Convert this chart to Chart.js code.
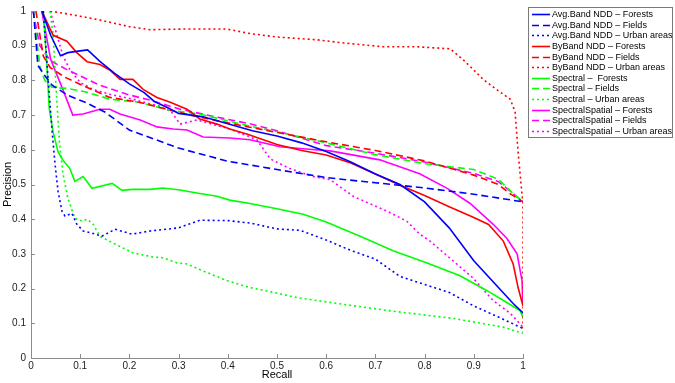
<!DOCTYPE html>
<html>
<head>
<meta charset="utf-8">
<script src="https://cdn.jsdelivr.net/npm/chart.js@4"></script>
<style>
html, body { margin: 0; padding: 0; background: #fff; }
</style>
</head>
<body>
<canvas id="prChart" width="675" height="383"></canvas>
<script>
// recall / precision, one pair of arrays per curve
var avgForestsRecall = [0.022, 0.04, 0.06, 0.075, 0.1, 0.115, 0.14, 0.17, 0.2, 0.23, 0.25, 0.28, 0.3, 0.35, 0.4, 0.45, 0.5, 0.55, 0.6, 0.65, 0.7, 0.75, 0.8, 0.85, 0.9, 0.95, 0.98, 1.0];
var avgForestsPrec   = [1.0, 0.93, 0.871, 0.88, 0.885, 0.888, 0.855, 0.82, 0.79, 0.765, 0.74, 0.72, 0.705, 0.695, 0.675, 0.655, 0.64, 0.62, 0.595, 0.565, 0.53, 0.50, 0.45, 0.375, 0.28, 0.203, 0.157, 0.13];

var avgFieldsRecall = [0.005, 0.014, 0.028, 0.043, 0.075, 0.11, 0.15, 0.2, 0.3, 0.4, 0.5, 0.6, 0.7, 0.8, 0.9, 1.0];
var avgFieldsPrec   = [1.0, 0.843, 0.814, 0.786, 0.757, 0.737, 0.709, 0.657, 0.605, 0.567, 0.543, 0.52, 0.505, 0.49, 0.472, 0.45];

var avgUrbanRecall = [0.025, 0.035, 0.043, 0.049, 0.055, 0.063, 0.069, 0.083, 0.093, 0.106, 0.124, 0.144, 0.171, 0.205, 0.242, 0.3, 0.343, 0.4, 0.445, 0.5, 0.547, 0.6, 0.65, 0.7, 0.75, 0.8, 0.85, 0.9, 0.95, 1.0];
var avgUrbanPrec   = [1.0, 0.8, 0.651, 0.557, 0.48, 0.423, 0.409, 0.417, 0.386, 0.366, 0.36, 0.351, 0.371, 0.357, 0.366, 0.375, 0.397, 0.396, 0.389, 0.372, 0.368, 0.34, 0.31, 0.285, 0.235, 0.212, 0.189, 0.15, 0.118, 0.085];

var byForestsRecall = [0.022, 0.045, 0.073, 0.093, 0.114, 0.14, 0.16, 0.181, 0.207, 0.228, 0.256, 0.283, 0.317, 0.343, 0.378, 0.404, 0.44, 0.5, 0.55, 0.6, 0.65, 0.7, 0.75, 0.8, 0.85, 0.9, 0.93, 0.96, 0.98, 0.99, 1.0];
var byForestsPrec   = [1.0, 0.93, 0.913, 0.88, 0.854, 0.846, 0.83, 0.803, 0.803, 0.774, 0.751, 0.737, 0.717, 0.689, 0.674, 0.66, 0.645, 0.615, 0.598, 0.585, 0.562, 0.53, 0.498, 0.468, 0.436, 0.405, 0.385, 0.337, 0.271, 0.203, 0.15];

var byFieldsRecall = [0.01, 0.025, 0.039, 0.069, 0.104, 0.16, 0.22, 0.283, 0.343, 0.445, 0.5, 0.6, 0.7, 0.8, 0.9, 0.95, 0.975, 1.0];
var byFieldsPrec   = [1.0, 0.87, 0.837, 0.809, 0.786, 0.751, 0.737, 0.714, 0.694, 0.665, 0.65, 0.623, 0.598, 0.568, 0.527, 0.5, 0.472, 0.45];

var byUrbanRecall = [0.039, 0.1, 0.14, 0.2, 0.242, 0.309, 0.398, 0.445, 0.5, 0.581, 0.648, 0.716, 0.784, 0.852, 0.878, 0.9, 0.919, 0.95, 0.974, 0.984, 0.99, 0.998, 1.0, 1.0];
var byUrbanPrec   = [1.0, 0.985, 0.974, 0.955, 0.946, 0.948, 0.948, 0.935, 0.925, 0.917, 0.906, 0.897, 0.897, 0.891, 0.86, 0.83, 0.803, 0.77, 0.746, 0.709, 0.594, 0.471, 0.45, 0.075];

var specForestsRecall = [0.025, 0.032, 0.037, 0.045, 0.055, 0.065, 0.079, 0.089, 0.106, 0.124, 0.165, 0.185, 0.207, 0.242, 0.268, 0.303, 0.343, 0.378, 0.404, 0.445, 0.5, 0.553, 0.6, 0.669, 0.736, 0.805, 0.872, 0.927, 0.967, 0.994, 1.0];
var specForestsPrec   = [1.0, 0.85, 0.72, 0.651, 0.594, 0.57, 0.546, 0.509, 0.523, 0.489, 0.503, 0.483, 0.486, 0.486, 0.49, 0.484, 0.474, 0.466, 0.455, 0.445, 0.43, 0.414, 0.392, 0.351, 0.309, 0.274, 0.237, 0.194, 0.16, 0.137, 0.117];

var specFieldsRecall = [0.005, 0.018, 0.028, 0.043, 0.073, 0.114, 0.16, 0.22, 0.283, 0.343, 0.445, 0.5, 0.6, 0.7, 0.8, 0.9, 0.95, 0.975, 1.0];
var specFieldsPrec   = [1.0, 0.84, 0.80, 0.78, 0.777, 0.766, 0.746, 0.737, 0.714, 0.703, 0.668, 0.652, 0.62, 0.586, 0.56, 0.543, 0.515, 0.48, 0.45];

var specUrbanRecall = [0.039, 0.045, 0.049, 0.053, 0.058, 0.065, 0.075, 0.089, 0.104, 0.114, 0.126, 0.14, 0.167, 0.207, 0.248, 0.268, 0.297, 0.317, 0.358, 0.398, 0.445, 0.5, 0.541, 0.608, 0.724, 0.858, 0.96, 1.0];
var specUrbanPrec   = [1.0, 0.93, 0.83, 0.73, 0.62, 0.53, 0.46, 0.403, 0.394, 0.4, 0.386, 0.351, 0.331, 0.303, 0.291, 0.289, 0.274, 0.271, 0.246, 0.223, 0.203, 0.187, 0.174, 0.16, 0.137, 0.114, 0.089, 0.071];

var ssForestsRecall = [0.022, 0.04, 0.063, 0.085, 0.106, 0.14, 0.16, 0.181, 0.2, 0.222, 0.256, 0.289, 0.317, 0.35, 0.404, 0.445, 0.506, 0.553, 0.608, 0.709, 0.79, 0.846, 0.892, 0.939, 0.967, 0.988, 0.998, 1.0];
var ssForestsPrec   = [1.0, 0.86, 0.78, 0.70, 0.703, 0.717, 0.717, 0.703, 0.695, 0.686, 0.666, 0.66, 0.657, 0.637, 0.634, 0.629, 0.609, 0.603, 0.597, 0.571, 0.531, 0.489, 0.446, 0.386, 0.345, 0.3, 0.223, 0.15];

var ssFieldsRecall = [0.004, 0.018, 0.039, 0.073, 0.106, 0.14, 0.195, 0.242, 0.303, 0.378, 0.445, 0.5, 0.6, 0.7, 0.8, 0.85, 0.9, 0.95, 0.975, 1.0];
var ssFieldsPrec   = [1.0, 0.9, 0.857, 0.831, 0.809, 0.786, 0.76, 0.743, 0.717, 0.694, 0.675, 0.655, 0.612, 0.59, 0.565, 0.548, 0.532, 0.508, 0.48, 0.45];

var ssUrbanRecall = [0.039, 0.053, 0.065, 0.079, 0.1, 0.126, 0.16, 0.207, 0.262, 0.285, 0.303, 0.337, 0.404, 0.459, 0.486, 0.526, 0.573, 0.608, 0.655, 0.724, 0.764, 0.79, 0.811, 0.858, 0.898, 0.939, 0.974, 1.0];
var ssUrbanPrec   = [1.0, 0.929, 0.871, 0.831, 0.794, 0.774, 0.76, 0.746, 0.725, 0.71, 0.674, 0.686, 0.66, 0.629, 0.574, 0.546, 0.523, 0.514, 0.466, 0.423, 0.394, 0.357, 0.337, 0.28, 0.231, 0.166, 0.129, 0.089];

var seriesLabels = [
    'Avg.Band NDD \u2013 Forests', 'Avg.Band NDD \u2013 Fields', 'Avg.Band NDD \u2013 Urban areas',
    'ByBand NDD \u2013 Forests', 'ByBand NDD \u2013 Fields', 'ByBand NDD \u2013 Urban areas',
    'Spectral \u2013  Forests', 'Spectral \u2013 Fields', 'Spectral \u2013 Urban areas',
    'SpectralSpatial \u2013 Forests', 'SpectralSpatial \u2013 Fields', 'SpectralSpatial \u2013 Urban areas'
];
var tickValues = [0, 0.1, 0.2, 0.3, 0.4, 0.5, 0.6, 0.7, 0.8, 0.9, 1];

var colors = ['#0000ff', '#ff0000', '#00ff00', '#ff00ff'];
var dashes = [[], [7, 4], [2, 3]];

function toPoints(r, p) {
    return r.map(function(x, i) { return {x: x, y: p[i]}; });
}

var curves = [
    [avgForestsRecall, avgForestsPrec], [avgFieldsRecall, avgFieldsPrec], [avgUrbanRecall, avgUrbanPrec],
    [byForestsRecall, byForestsPrec], [byFieldsRecall, byFieldsPrec], [byUrbanRecall, byUrbanPrec],
    [specForestsRecall, specForestsPrec], [specFieldsRecall, specFieldsPrec], [specUrbanRecall, specUrbanPrec],
    [ssForestsRecall, ssForestsPrec], [ssFieldsRecall, ssFieldsPrec], [ssUrbanRecall, ssUrbanPrec]
];

var datasets = curves.map(function(c, i) {
    return {
        label: seriesLabels[i],
        data: toPoints(c[0], c[1]),
        showLine: true,
        borderColor: colors[Math.floor(i / 3)],
        backgroundColor: colors[Math.floor(i / 3)],
        borderWidth: 1.6,
        borderDash: dashes[i % 3],
        pointRadius: 0,
        tension: 0
    };
});

// little matlab style ticks pointing into the plot
var inwardTicks = {
    id: 'inwardTicks',
    afterDraw: function(chart) {
        var ctx = chart.ctx, a = chart.chartArea;
        var xs = chart.scales.x, ys = chart.scales.y;
        ctx.save();
        ctx.strokeStyle = '#8c8c8c';
        ctx.lineWidth = 1;
        ctx.beginPath();
        tickValues.forEach(function(v) {
            var px = Math.round(xs.getPixelForValue(v)) + 0.5;
            ctx.moveTo(px, a.bottom);
            ctx.lineTo(px, a.bottom - 4);
            var py = Math.round(ys.getPixelForValue(v)) + 0.5;
            ctx.moveTo(a.left, py);
            ctx.lineTo(a.left + 4, py);
        });
        ctx.stroke();
        ctx.restore();
    }
};

// boxed legend at the right, like the original figure
var boxLegend = {
    id: 'boxLegend',
    afterDraw: function(chart) {
        var ctx = chart.ctx;
        var left = 528, top = 7, w = 144, h = 130, step = 10.64;
        ctx.save();
        ctx.fillStyle = '#fff';
        ctx.fillRect(left, top, w, h);
        ctx.strokeStyle = '#7a7a7a';
        ctx.lineWidth = 1;
        ctx.strokeRect(left + 0.5, top + 0.5, w, h);
        ctx.font = '9px "Liberation Sans", Arial, sans-serif';
        ctx.textBaseline = 'middle';
        ctx.fillStyle = '#000';
        chart.data.datasets.forEach(function(ds, i) {
            var y = top + 7 + i * step;
            ctx.strokeStyle = ds.borderColor;
            ctx.lineWidth = 1.6;
            ctx.setLineDash(ds.borderDash);
            ctx.beginPath();
            ctx.moveTo(532, Math.round(y) + 0.5);
            ctx.lineTo(550, Math.round(y) + 0.5);
            ctx.stroke();
            ctx.fillText(ds.label, 552, y + 0.5);
        });
        ctx.restore();
    }
};

var axisFont = {family: '"Liberation Sans", Arial, sans-serif', size: 10};
var titleFont = {family: '"Liberation Sans", Arial, sans-serif', size: 11};

new Chart(document.getElementById('prChart'), {
    type: 'scatter',
    data: {datasets: datasets},
    options: {
        responsive: false,
        animation: false,
        layout: {padding: {top: 8, right: 152, bottom: 0, left: 0}},
        plugins: {
            legend: {display: false},
            tooltip: {enabled: false}
        },
        scales: {
            x: {
                type: 'linear',
                min: 0,
                max: 1,
                afterFit: function(scale) { scale.height = 25; },
                afterBuildTicks: function(scale) {
                    scale.ticks = tickValues.map(function(v) { return {value: v}; });
                },
                ticks: {
                    font: axisFont,
                    color: '#222',
                    padding: 2,
                    maxRotation: 0,
                    callback: function(v) { return String(Math.round(v * 10) / 10); }
                },
                grid: {display: false, drawTicks: false},
                border: {display: true, color: '#8c8c8c', width: 1},
                title: {display: true, text: 'Recall', font: titleFont, color: '#000', padding: {top: 0, bottom: 1}}
            },
            y: {
                type: 'linear',
                min: 0,
                max: 1,
                afterFit: function(scale) { scale.width = 31; },
                afterBuildTicks: function(scale) {
                    scale.ticks = tickValues.map(function(v) { return {value: v}; });
                },
                ticks: {
                    font: axisFont,
                    color: '#222',
                    padding: 5,
                    callback: function(v) { return String(Math.round(v * 10) / 10); }
                },
                grid: {display: false, drawTicks: false},
                border: {display: true, color: '#8c8c8c', width: 1},
                title: {display: true, text: 'Precision', font: titleFont, color: '#000', padding: {top: 1, bottom: 0}}
            }
        }
    },
    plugins: [inwardTicks, boxLegend]
});
</script>
</body>
</html>
